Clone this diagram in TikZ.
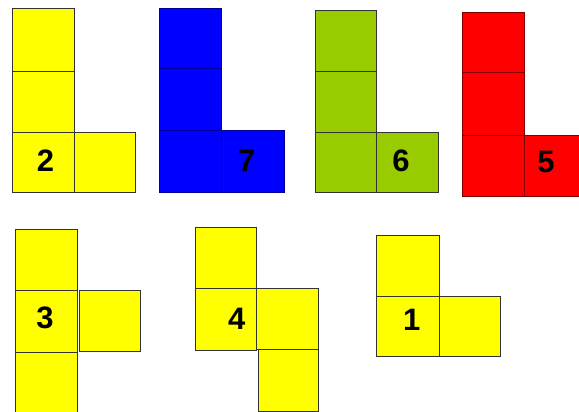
\documentclass[tikz,border=0pt]{standalone}
\usepackage{fontspec}
\setmainfont{Liberation Sans}
\definecolor{pyellow}{HTML}{FFFF00}
\definecolor{pblue}{HTML}{0000FF}
\definecolor{pgreen}{HTML}{99CC00}
\definecolor{pred}{HTML}{FF0000}
\definecolor{edge}{HTML}{333333}
\begin{document}
\begin{tikzpicture}[x=1pt,y=-1pt,
  cell/.style={draw=edge,line width=0.8pt},
  num/.style={font=\fontsize{31}{31}\selectfont\bfseries,inner sep=0pt,text=black}]
\useasboundingbox (0,0) rectangle (579,412);
\clip (0,0) rectangle (579,412);
\fill[white] (0,0) rectangle (579,412);
% piece 2
\filldraw[cell,fill=pyellow] (12,8.5) rectangle (74,71);
\filldraw[cell,fill=pyellow] (12,71) rectangle (74,132.5);
\filldraw[cell,fill=pyellow] (12,132.5) rectangle (74,192.5);
\filldraw[cell,fill=pyellow] (74,132.5) rectangle (135,192.5);
\node[num] (n2) at (45.5,160.5) {2};
% piece 7
\filldraw[cell,fill=pblue,draw=pblue!60!black] (159,8.5) rectangle (221.5,68.5);
\filldraw[cell,fill=pblue,draw=pblue!60!black] (159,68.5) rectangle (221.5,130);
\filldraw[cell,fill=pblue,draw=pblue!60!black] (159,130) rectangle (221.5,192.5);
\filldraw[cell,fill=pblue,draw=pblue!60!black] (221.5,130) rectangle (284.5,192.5);
\node[num] (n7) at (246.7,160.5) {7};
% piece 6
\filldraw[cell,fill=pgreen] (315.5,10) rectangle (376.5,71);
\filldraw[cell,fill=pgreen] (315.5,71) rectangle (376.5,132.5);
\filldraw[cell,fill=pgreen] (315.5,132.5) rectangle (376.5,192.5);
\filldraw[cell,fill=pgreen] (376.5,132.5) rectangle (438.5,192.5);
\node[num] (n6) at (401,160.5) {6};
% piece 5
\filldraw[cell,fill=pred,draw=pred!50!black] (462.5,12) rectangle (524,72);
\filldraw[cell,fill=pred,draw=pred!50!black] (462.5,72) rectangle (524,135);
\filldraw[cell,fill=pred,draw=pred!50!black] (462.5,135) rectangle (524,196);
\filldraw[cell,fill=pred,draw=pred!50!black] (524,135) rectangle (586,196);
\node[num] (n5) at (546,162) {5};
% piece 3
\filldraw[cell,fill=pyellow] (15,229) rectangle (77.5,290);
\filldraw[cell,fill=pyellow] (15,290) rectangle (77.5,352);
\filldraw[cell,fill=pyellow] (15,352) rectangle (77.5,414);
\filldraw[cell,fill=pyellow] (79,290) rectangle (140,351.5);
\node[num] (n3) at (45,318) {3};
% piece 4
\filldraw[cell,fill=pyellow] (195,227.5) rectangle (256,288.5);
\filldraw[cell,fill=pyellow] (195,288.5) rectangle (256,350.5);
\filldraw[cell,fill=pyellow] (256.5,288.5) rectangle (318.5,349.5);
\filldraw[cell,fill=pyellow] (258,349.5) rectangle (318.5,411.3);
\node[num] (n4) at (236.7,319) {4};
% piece 1
\filldraw[cell,fill=pyellow] (376.5,235) rectangle (439,296.5);
\filldraw[cell,fill=pyellow] (376.5,296.5) rectangle (439,356.5);
\filldraw[cell,fill=pyellow] (439,296.5) rectangle (500.5,356.5);
\node[num] (n1) at (411.7,320) {1};
\end{tikzpicture}
\end{document}
